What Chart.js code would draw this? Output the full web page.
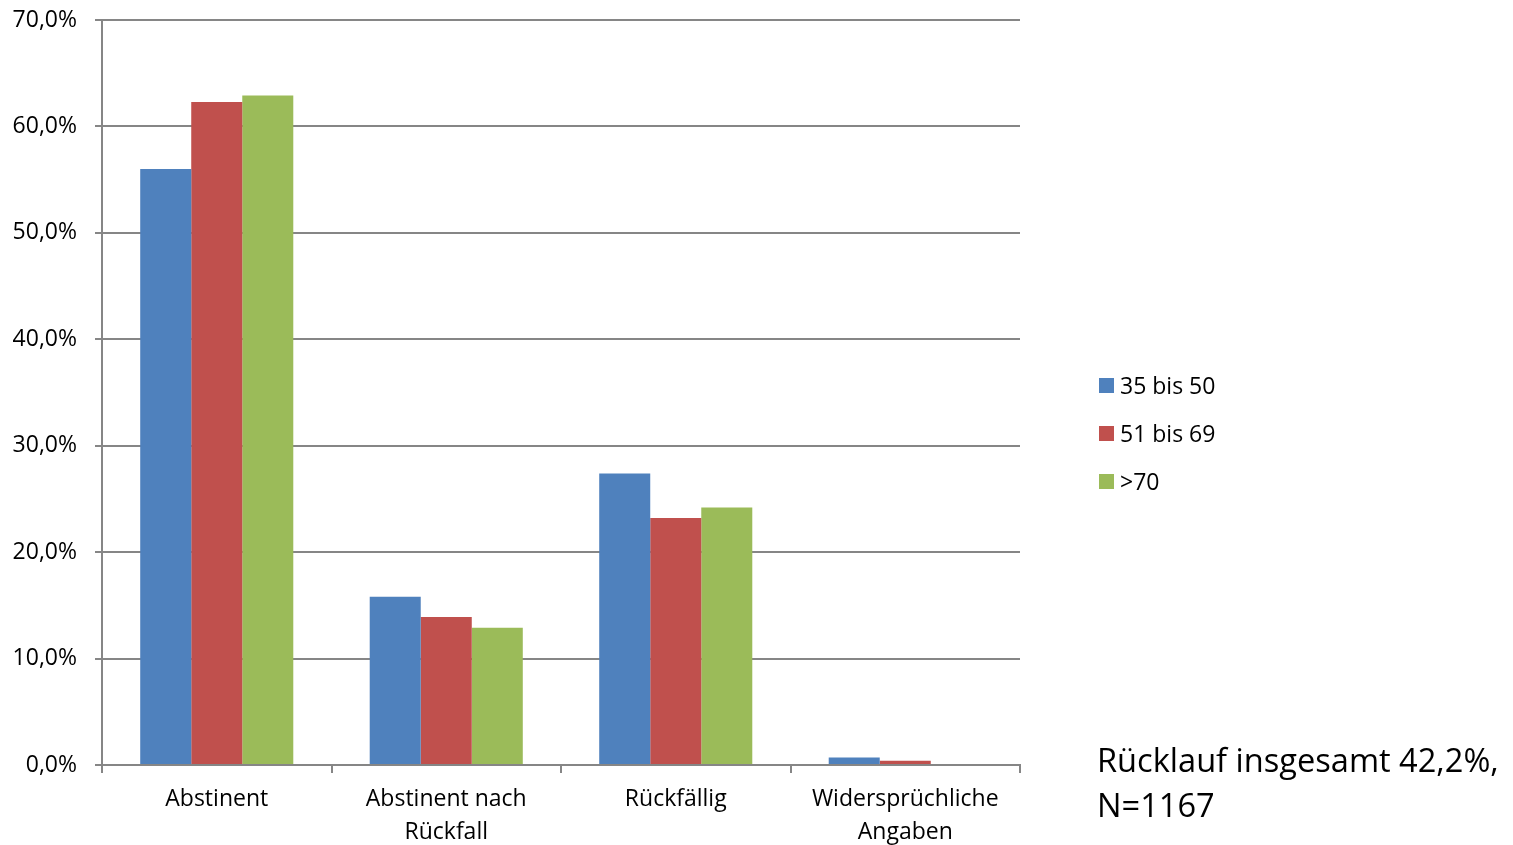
<!DOCTYPE html>
<html><head><meta charset="utf-8">
<script src="https://cdn.jsdelivr.net/npm/chart.js@4"></script>
<style>
html,body{margin:0;padding:0;background:#fff;}
#wrap{position:relative;width:1513px;height:845px;}
canvas{position:absolute;left:0;top:0;}
.lg{position:absolute;left:1099px;font-family:"Open Sans",sans-serif;font-size:23px;color:#000;display:flex;align-items:center;}
.lg span.sw{display:inline-block;width:15px;height:15px;margin-right:6px;}
#note{position:absolute;left:1097px;top:737px;font-family:"Open Sans",sans-serif;font-size:32.6px;line-height:45px;color:#000;}
</style></head>
<body><div id="wrap"><canvas id="c" width="1513" height="845"></canvas>
<div class="lg" style="top:369px"><span class="sw" style="background:#4F81BD"></span>35 bis 50</div>
<div class="lg" style="top:417px"><span class="sw" style="background:#C0504D"></span>51 bis 69</div>
<div class="lg" style="top:465px"><span class="sw" style="background:#9BBB59"></span>&gt;70</div>
<div id="note">Rücklauf insgesamt 42,2%,<br>N=1167</div>
</div>
<script>
const categories = [["Abstinent"], ["Abstinent nach", "Rückfall"], ["Rückfällig"], ["Widersprüchliche", "Angaben"]];
const seriesNames = ["35 bis 50", "51 bis 69", ">70"];
const s35bis50 = [56.0, 15.8, 27.4, 0.7];
const s51bis69 = [62.3, 13.9, 23.2, 0.4];
const s70plus = [62.9, 12.9, 24.2, 0.0];
const colors = ["#4F81BD", "#C0504D", "#9BBB59"];
const yFont = {family: "'Open Sans', sans-serif", size: 23};
const xFont = {family: "'Open Sans', sans-serif", size: 23, lineHeight: 1.43};

new Chart(document.getElementById('c'), {
  type: 'bar',
  data: {
    labels: categories,
    datasets: [s35bis50, s51bis69, s70plus].map((d, i) => ({
      label: seriesNames[i], data: d, backgroundColor: colors[i],
      categoryPercentage: 0.667, barPercentage: 1.0, borderWidth: 0
    }))
  },
  options: {
    responsive: false, animation: false,
    layout: {padding: {left: 0, top: 20, right: 493, bottom: 0}},
    plugins: {legend: {display: false}, tooltip: {enabled: false}},
    scales: {
      x: {
        offset: true,
        grid: {offset: true, drawOnChartArea: false, drawTicks: true, tickLength: 8, color: '#868686', lineWidth: 2},
        border: {color: '#868686', width: 2},
        ticks: {font: xFont, color: '#000', padding: 10, maxRotation: 0},
        afterFit: s => { s.height = 80; s.paddingLeft = 0; s.paddingRight = 0; }
      },
      y: {
        min: 0, max: 70,
        grid: {color: '#868686', lineWidth: 2, tickLength: 7},
        border: {color: '#868686', width: 2},
        ticks: {stepSize: 10, font: yFont, color: '#000', padding: 18,
          callback: v => v.toFixed(1).replace('.', ',') + '%'},
        afterFit: s => { s.width = 102; s.paddingTop = 0; s.paddingBottom = 0; }
      }
    }
  }
});
</script></body></html>
